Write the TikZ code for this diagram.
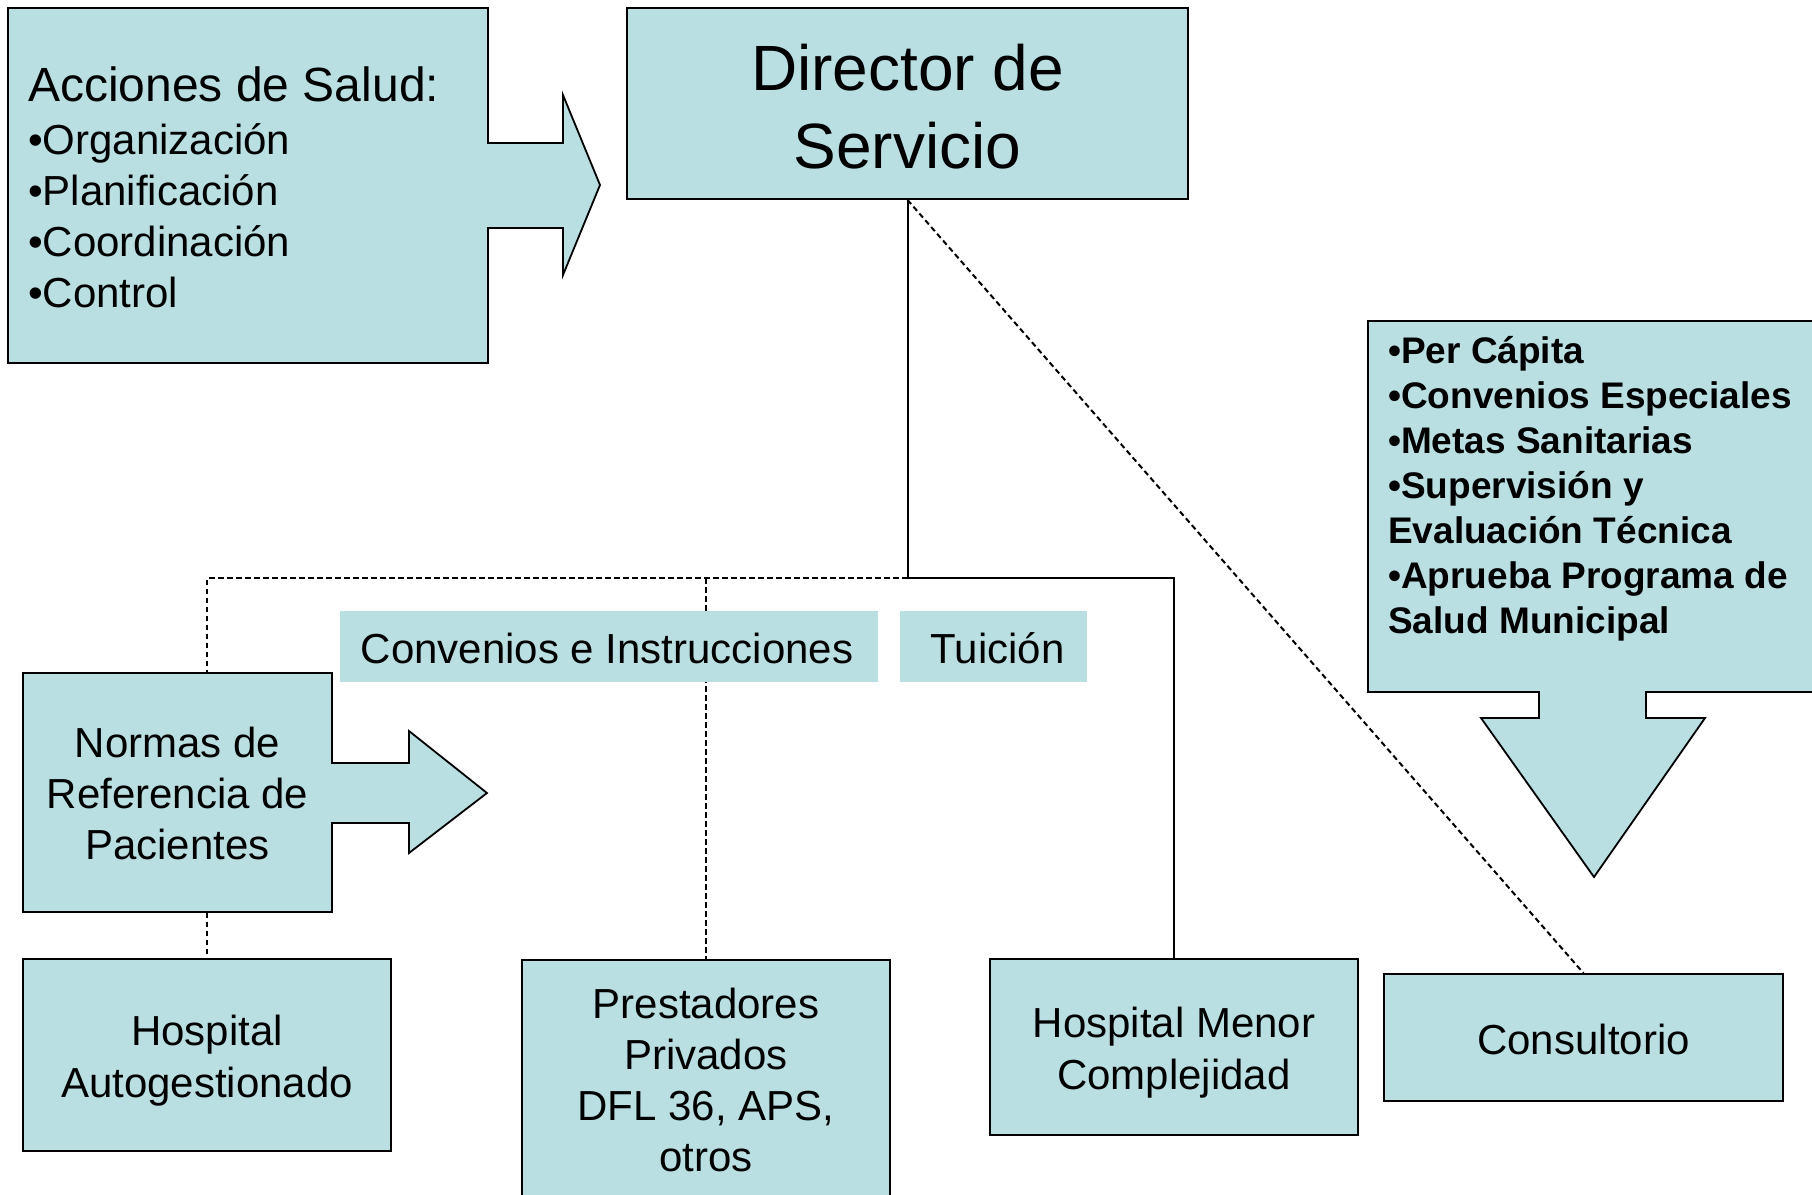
\documentclass[tikz,border=0pt]{standalone}
\usepackage{fontspec}
\setmainfont{Liberation Sans}
\definecolor{fillc}{RGB}{185,223,227}
\pgfdeclarelayer{background}
\pgfsetlayers{background,main}
\begin{document}
\begin{tikzpicture}[x=1pt,y=-1pt,
  shapeline/.style={draw=black, line width=1.8pt, fill=fillc, line join=miter},
  box/.style={shapeline, rectangle, inner sep=0pt, align=center, font=\fontsize{42}{51}\selectfont},
  lbl/.style={fill=fillc, inner sep=0pt, font=\fontsize{42}{51}\selectfont},
  txt/.style={inner sep=0pt, align=center, font=\fontsize{42}{52}\selectfont},
  conn/.style={line width=2pt},
  dconn/.style={line width=2pt, dash pattern=on 5.5pt off 3.5pt}]
\useasboundingbox (0,0) rectangle (1812,1194);

% Acciones de Salud (box with right arrow)
\draw[shapeline] (8,8) -- (488,8) -- (488,143) -- (563,143) -- (563,95) -- (600,185)
  -- (563,275) -- (563,228) -- (488,228) -- (488,363) -- (8,363) -- cycle;
\node[txt, align=left, anchor=north west, font=\fontsize{42}{51}\selectfont] (acc) at (28,67)
  {{\fontsize{48}{51}\selectfont Acciones de Salud:}\\[2pt]
   •Organización\\ •Planificación\\ •Coordinación\\ •Control};

% Director
\node[box, minimum width=561pt, minimum height=191pt] (dir) at (907.5,103.5) {};
\node[txt, font=\fontsize{64}{78}\selectfont] (dirtxt) at ([yshift=-3pt]dir.center)
  {Director de\\Servicio};

% Right box with down arrow
\draw[shapeline] (1368,321) -- (1840,321) -- (1840,692) -- (1646,692) -- (1646,718) -- (1705,718)
  -- (1594,877) -- (1481,718) -- (1539,718) -- (1539,692) -- (1368,692) -- cycle;
\node[txt, align=left, anchor=north west, font=\fontsize{37}{45}\selectfont\bfseries] (fin) at (1388,336)
  {•Per Cápita\\ •Convenios Especiales\\ •Metas Sanitarias\\ •Supervisión y\\
   Evaluación Técnica\\ •Aprueba Programa de\\ Salud Municipal};

% Normas (box with right arrow)
\draw[shapeline] (23,673) -- (332,673) -- (332,763) -- (409,763) -- (409,731) -- (487,793)
  -- (409,853) -- (409,823) -- (332,823) -- (332,912) -- (23,912) -- cycle;
\node[txt, font=\fontsize{42}{51}\selectfont] (norm) at (177.5,793.5)
  {Normas de\\Referencia de\\Pacientes};

% Labels
\node[lbl, minimum width=538pt, minimum height=71pt] (conv) at (609,646.5) {};
\node[txt] (convtxt) at ([xshift=-2pt,yshift=-2pt]conv.center) {Convenios e Instrucciones};
\node[lbl, minimum width=187pt, minimum height=71pt] (tui) at (993.5,646.5) {};
\node[txt] (tuitxt) at ([xshift=4pt,yshift=-2pt]tui.center) {Tuición};

% Bottom boxes
\node[box, minimum width=368pt, minimum height=192pt] (ha) at (207,1055) {};
\node[txt] (hatxt) at ([yshift=-6pt]ha.center) {Hospital\\Autogestionado};
\node[box, minimum width=368pt, minimum height=260pt, anchor=north] (pp) at (706,959) {};
\node[txt, font=\fontsize{42}{51}\selectfont] (pptxt) at (706,1080)
  {Prestadores\\Privados\\DFL 36, APS,\\otros};
\node[box, minimum width=368pt, minimum height=176pt] (hm) at (1174,1047) {};
\node[txt] (hmtxt) at ([yshift=-6pt]hm.center) {Hospital Menor\\Complejidad};
\node[box, minimum width=399pt, minimum height=127pt] (cons) at (1583.5,1037.5) {};
\node[txt] (constxt) at ([yshift=-2pt]cons.center) {Consultorio};

% Connectors
\coordinate (jy) at (0,578);
\begin{pgfonlayer}{background}
  \draw[conn] (dir.south) -- (dir.south |- jy) -| (hm.north);
  \draw[dconn] (dir.south |- jy) -| (ha.north);
  \draw[dconn] (pp.north |- jy) -- (pp.north);
  \draw[dconn] (dir.south) -- (cons.north);
\end{pgfonlayer}
\end{tikzpicture}
\end{document}
